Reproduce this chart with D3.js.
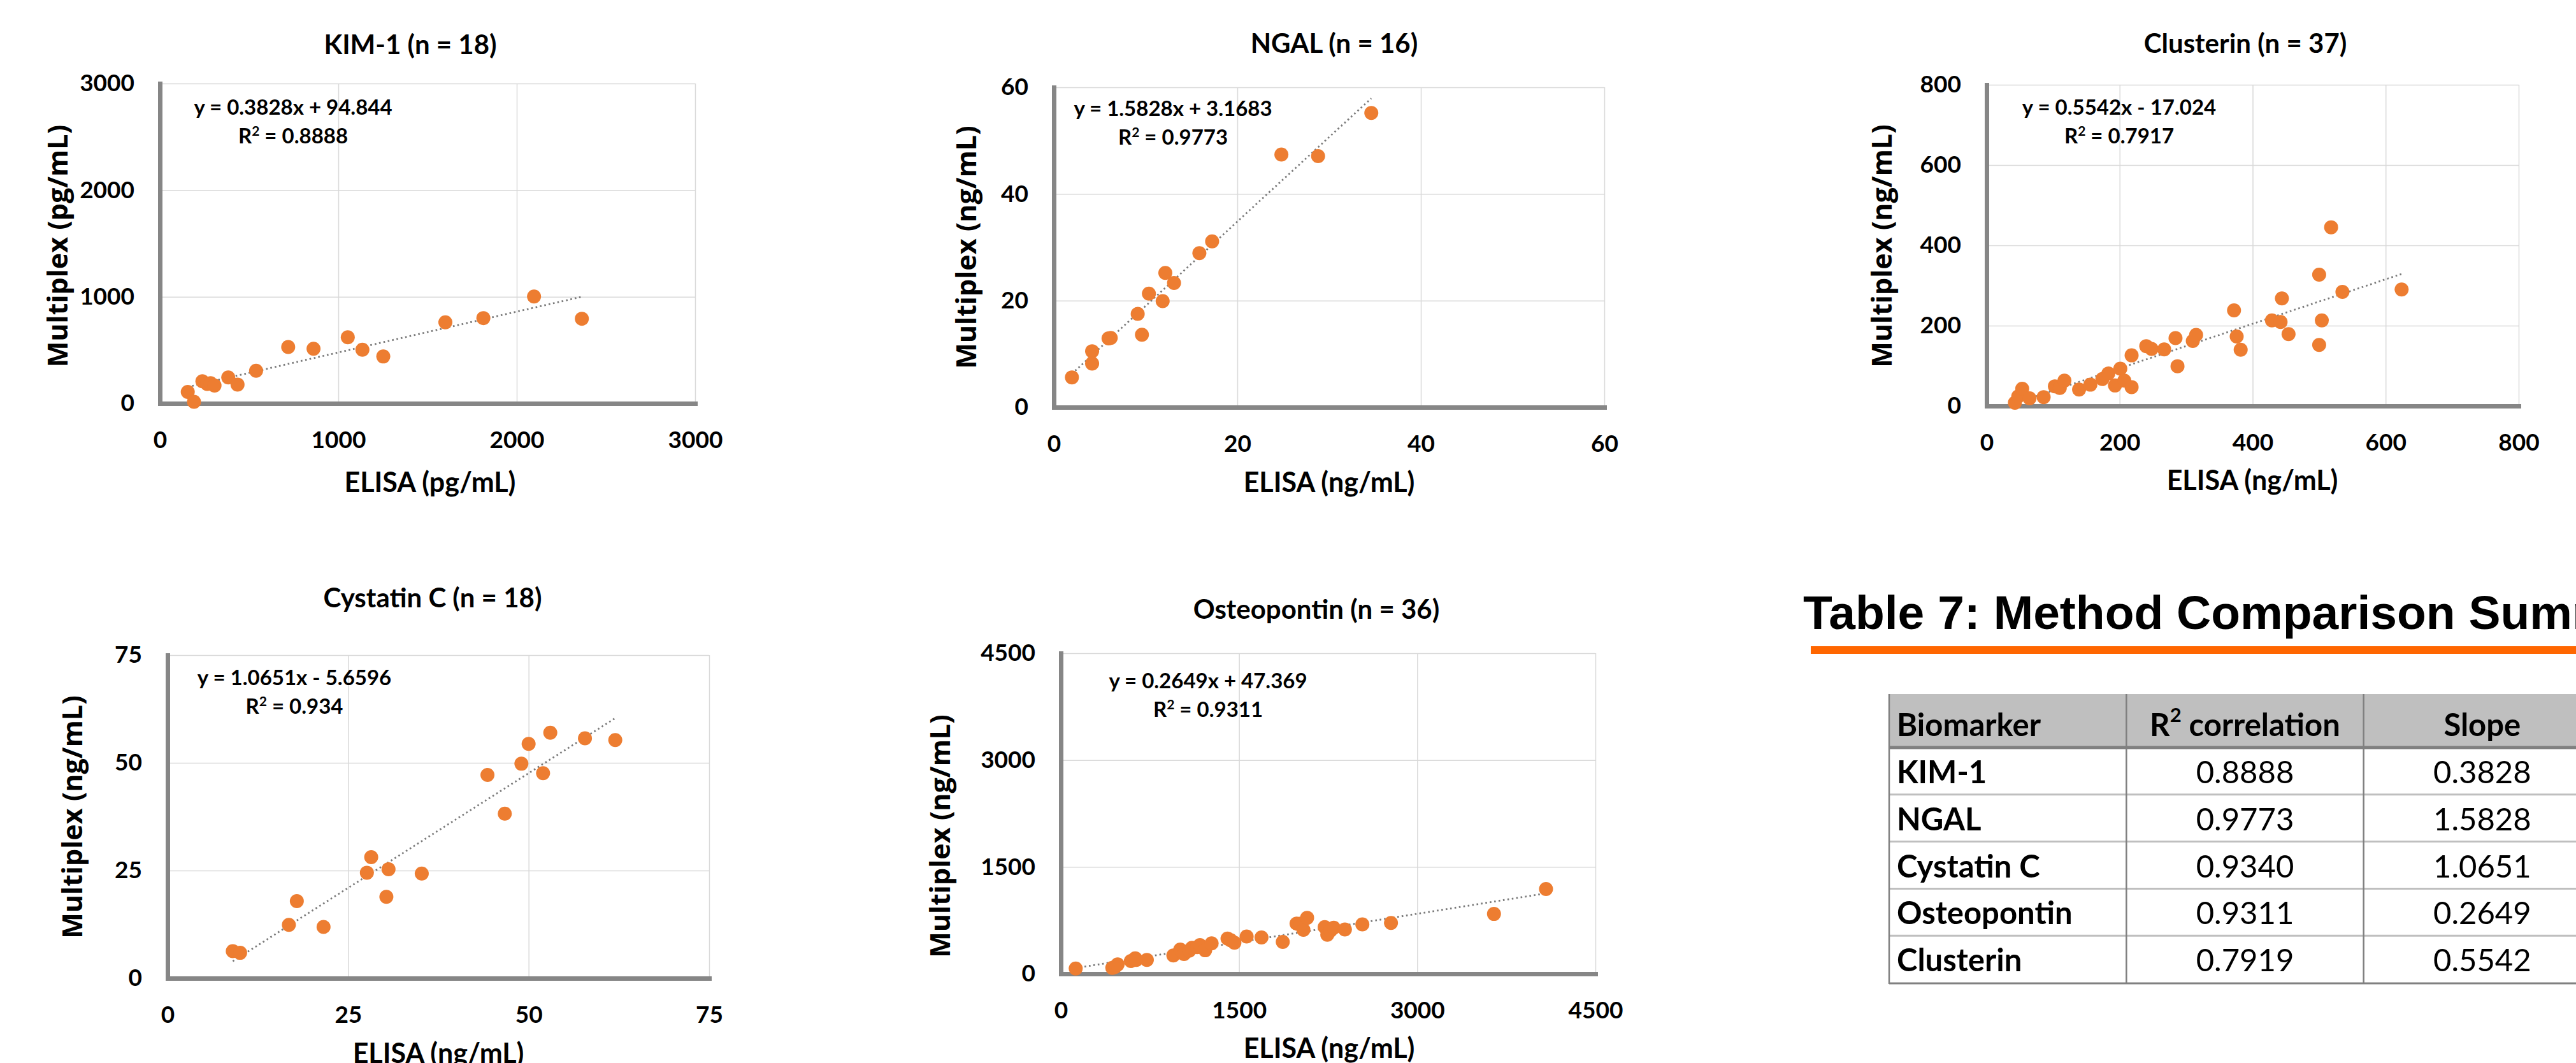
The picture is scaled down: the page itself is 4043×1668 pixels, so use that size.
<!DOCTYPE html>
<html>
<head>
<meta charset="utf-8">
<script src="https://cdn.jsdelivr.net/npm/d3@7"></script>
<style>
  body { margin: 0; background: #fff; }
  svg { display: block; }
</style>
</head>
<body>
<svg id="fig" width="4043" height="1668"></svg>
<script>
// values: ELISA (x) vs Multiplex (y) per biomarker
const kim1Elisa = [156, 191, 238, 265, 284, 306, 383, 435, 539, 719, 861, 1053, 1135, 1252, 1600, 1813, 2097, 2365];
const kim1Multiplex = [107, 15, 208, 183, 189, 168, 244, 177, 306, 529, 513, 620, 504, 440, 761, 800, 1002, 794];
const kim1Ticks = [0, 1000, 2000, 3000];

const ngalElisa = [1.97, 4.17, 4.17, 5.96, 6.2, 9.14, 9.6, 10.36, 11.86, 12.15, 13.1, 15.86, 17.25, 24.8, 28.8, 34.6];
const ngalMultiplex = [5.6, 10.5, 8.2, 12.9, 13.0, 17.5, 13.6, 21.3, 19.9, 25.2, 23.3, 28.9, 31.1, 47.4, 47.1, 55.2];
const ngalTicks = [0, 20, 40, 60];

const clusterinElisa = [42.5, 47.6, 53.5, 64.5, 85.7, 102.6, 110, 117, 139, 156, 174, 183, 193, 201, 207, 218, 218, 240, 248, 267,
  284, 287, 310, 315, 372, 376, 382, 429, 442, 444, 454, 500, 500, 504, 518, 535, 624];
const clusterinMultiplex = [8, 24, 43, 19, 22, 49, 45, 63, 41, 53, 67, 81, 51, 93, 63, 47, 126, 149, 142, 141,
  169, 99, 162, 177, 238, 173, 140, 213, 209, 268, 179, 327, 152, 213, 445, 284, 290];
const clusterinTicks = [0, 200, 400, 600, 800];

const cystatinElisa = [9.03, 10.05, 16.8, 17.9, 21.6, 27.6, 28.2, 30.3, 30.6, 35.2, 44.3, 46.7, 49.0, 50.0, 52.0, 53.0, 57.8, 62.0];
const cystatinMultiplex = [6.3, 5.9, 12.4, 17.9, 11.9, 24.5, 28.1, 18.9, 25.3, 24.3, 47.2, 38.2, 49.8, 54.4, 47.6, 57.0, 55.7, 55.3];
const cystatinTicks = [0, 25, 50, 75];

const osteoElisa = [125, 433, 456, 478, 590, 626, 635, 724, 947, 1005, 1037, 1081, 1104, 1148, 1171, 1215, 1269, 1403, 1430, 1461,
  1564, 1689, 1868, 1984, 2020, 2042, 2073, 2221, 2243, 2270, 2297, 2391, 2538, 2779, 3646, 4084];
const osteoMultiplex = [73, 83, 97, 131, 180, 218, 194, 194, 257, 340, 277, 325, 364, 374, 403, 330, 427, 495, 471, 437,
  524, 510, 447, 704, 704, 617, 786, 655, 549, 607, 646, 621, 694, 714, 840, 1189];
const osteoTicks = [0, 1500, 3000, 4500];

// fitted trendlines as printed on each chart
const slopes = { kim: 0.3828, ngal: 1.5828, clusterin: 0.5542, cystatin: 1.0651, osteo: 0.2649 };
const intercepts = { kim: 94.844, ngal: 3.1683, clusterin: -17.024, cystatin: -5.6596, osteo: 47.369 };
const r2Labels = { kim: '0.8888', ngal: '0.9773', clusterin: '0.7917', cystatin: '0.934', osteo: '0.9311' };

// summary table
const tableHeaders = ['Biomarker', 'R2 correlation', 'Slope'];
const tableNames = ['KIM-1', 'NGAL', 'Cystatin C', 'Osteopontin', 'Clusterin'];
const tableR2 = ['0.8888', '0.9773', '0.9340', '0.9311', '0.7919'];
const tableSlope = ['0.3828', '1.5828', '1.0651', '0.2649', '0.5542'];

const ORANGE = '#ED7D31';
const AXIS = '#868686';
const GRID = '#d9d9d9';
const CAL = 'Lato, "Open Sans", sans-serif';

const panels = [
  { key: 'kim', title: 'KIM-1 (n = 18)', xs: kim1Elisa, ys: kim1Multiplex, ticks: kim1Ticks, unit: 'pg/mL',
    box: { l: 251, r: 1091, t: 131, b: 633 }, titlePos: [644, 85], xTitle: [675, 772], yTitle: [106, 386], eq: [460, 180] },
  { key: 'ngal', title: 'NGAL (n = 16)', xs: ngalElisa, ys: ngalMultiplex, ticks: ngalTicks, unit: 'ng/mL',
    box: { l: 1654, r: 2518, t: 137, b: 639 }, titlePos: [2094, 83], xTitle: [2086, 772], yTitle: [1532, 388], eq: [1841, 182] },
  { key: 'clusterin', title: 'Clusterin (n = 37)', xs: clusterinElisa, ys: clusterinMultiplex, ticks: clusterinTicks, unit: 'ng/mL',
    box: { l: 3118, r: 3953, t: 133, b: 637 }, titlePos: [3524, 83], xTitle: [3535, 769], yTitle: [2969, 386], eq: [3326, 180] },
  { key: 'cystatin', title: 'Cystatin C (n = 18)', xs: cystatinElisa, ys: cystatinMultiplex, ticks: cystatinTicks, unit: 'ng/mL',
    box: { l: 263, r: 1113, t: 1028, b: 1535 }, titlePos: [679, 953], xTitle: [688, 1668], yTitle: [129, 1282], eq: [462, 1075] },
  { key: 'osteo', title: 'Osteopontin (n = 36)', xs: osteoElisa, ys: osteoMultiplex, ticks: osteoTicks, unit: 'ng/mL',
    box: { l: 1665, r: 2504, t: 1025, b: 1528 }, titlePos: [2066, 971], xTitle: [2086, 1660], yTitle: [1491, 1312], eq: [1896, 1080] }
];

const svg = d3.select('#fig');
svg.append('rect').attr('width', 4043).attr('height', 1668).attr('fill', '#fff');

function drawPanel(p){
  const g = svg.append('g');
  const max = d3.max(p.ticks);
  const x = d3.scaleLinear().domain([0, max]).range([p.box.l, p.box.r]);
  const y = d3.scaleLinear().domain([0, max]).range([p.box.b, p.box.t]);
  const h = p.box.b - p.box.t, w = p.box.r - p.box.l;

  // gridlines (incl. top and right edges)
  g.append('g').attr('transform', `translate(0,${p.box.b})`)
    .call(d3.axisBottom(x).tickValues(p.ticks.slice(1)).tickSize(-h).tickFormat(''))
    .call(s => s.select('.domain').remove())
    .selectAll('line').attr('stroke', GRID).attr('stroke-width', 1.5);
  g.append('g').attr('transform', `translate(${p.box.l},0)`)
    .call(d3.axisLeft(y).tickValues(p.ticks.slice(1)).tickSize(-w).tickFormat(''))
    .call(s => s.select('.domain').remove())
    .selectAll('line').attr('stroke', GRID).attr('stroke-width', 1.5);

  // trendline over the data range
  const lo = d3.min(p.xs), hi = d3.max(p.xs);
  const m = slopes[p.key], c = intercepts[p.key];
  g.append('line')
    .attr('x1', x(lo)).attr('y1', y(m * lo + c))
    .attr('x2', x(hi)).attr('y2', y(m * hi + c))
    .attr('stroke', '#7a7a7a').attr('stroke-width', 2.8)
    .attr('stroke-dasharray', '2.6 4.4');

  // axes
  const fmt = d3.format('d');
  const xa = g.append('g').attr('transform', `translate(0,${p.box.b})`)
    .call(d3.axisBottom(x).tickValues(p.ticks).tickFormat(fmt).tickSize(0).tickSizeOuter(0).tickPadding(44));
  const ya = g.append('g').attr('transform', `translate(${p.box.l},0)`)
    .call(d3.axisLeft(y).tickValues(p.ticks).tickFormat(fmt).tickSize(0).tickSizeOuter(0).tickPadding(40));
  [xa, ya].forEach(a => {
    a.select('.domain').attr('stroke', AXIS).attr('stroke-width', 7).attr('stroke-linecap', 'square');
    a.selectAll('text').attr('font-family', CAL).attr('font-weight', 700)
      .attr('font-size', 37).attr('fill', '#000');
  });

  // points
  g.append('g').selectAll('circle').data(p.xs.map((v, i) => [v, p.ys[i]])).join('circle')
    .attr('cx', d => x(d[0])).attr('cy', d => y(d[1])).attr('r', 11).attr('fill', ORANGE);

  // equation label
  const eq = `y = ${m}x ${c < 0 ? '-' : '+'} ${Math.abs(c)}`;
  g.append('text').attr('x', p.eq[0]).attr('y', p.eq[1]).attr('text-anchor', 'middle')
    .attr('font-family', CAL).attr('font-weight', 700).attr('font-size', 33).text(eq);
  const r2 = g.append('text').attr('x', p.eq[0]).attr('y', p.eq[1] + 45).attr('text-anchor', 'middle')
    .attr('font-family', CAL).attr('font-weight', 700).attr('font-size', 33);
  r2.append('tspan').text('R');
  r2.append('tspan').attr('font-size', 21).attr('dy', -12).text('2');
  r2.append('tspan').attr('dy', 12).text(' = ' + r2Labels[p.key]);

  // titles
  g.append('text').attr('x', p.titlePos[0]).attr('y', p.titlePos[1]).attr('text-anchor', 'middle')
    .attr('font-family', CAL).attr('font-weight', 700).attr('font-size', 42).text(p.title);
  g.append('text').attr('x', p.xTitle[0]).attr('y', p.xTitle[1]).attr('text-anchor', 'middle')
    .attr('font-family', CAL).attr('font-weight', 700).attr('font-size', 43).text(`ELISA (${p.unit})`);
  g.append('text').attr('transform', `translate(${p.yTitle[0]},${p.yTitle[1]}) rotate(-90)`)
    .attr('text-anchor', 'middle')
    .attr('font-family', '"Open Sans", sans-serif').attr('font-weight', 700).attr('font-size', 43)
    .text(`Multiplex (${p.unit})`);
}

panels.forEach(drawPanel);

// ---- summary table ----
const tg = svg.append('g');
tg.append('text').attr('x', 2830).attr('y', 987)
  .attr('font-family', '"Liberation Sans", Arial, sans-serif').attr('font-weight', 700).attr('font-size', 75)
  .text('Table 7: Method Comparison Summary');
tg.append('rect').attr('x', 2842).attr('y', 1014).attr('width', 4043 - 2842).attr('height', 12).attr('fill', '#ff6600');

const colX = d3.scaleBand().domain(['name', 'r2', 'slope']).range([2965, 4082]);
const headTop = 1089, headBot = 1173;
const rowY = d3.scaleBand().domain(tableNames).range([headBot, 1542]);

tg.append('rect').attr('x', colX.range()[0]).attr('y', headTop)
  .attr('width', colX.range()[1] - colX.range()[0]).attr('height', headBot - headTop).attr('fill', '#bfbfbf');

// row separators
tg.selectAll('line.row').data(tableNames.slice(1)).join('line').attr('class', 'row')
  .attr('x1', 2965).attr('x2', 4082).attr('y1', d => rowY(d)).attr('y2', d => rowY(d))
  .attr('stroke', '#bfbfbf').attr('stroke-width', 3);
tg.append('line').attr('x1', 2965).attr('x2', 4082).attr('y1', headBot).attr('y2', headBot)
  .attr('stroke', '#808080').attr('stroke-width', 5);
tg.append('line').attr('x1', 2965).attr('x2', 4082).attr('y1', 1543).attr('y2', 1543)
  .attr('stroke', '#808080').attr('stroke-width', 3);
// column separators
tg.selectAll('line.col').data(['name', 'r2', 'slope']).join('line').attr('class', 'col')
  .attr('x1', d => colX(d)).attr('x2', d => colX(d)).attr('y1', headTop).attr('y2', 1544)
  .attr('stroke', '#808080').attr('stroke-width', 2.5);

// header text
const hs = { 'font-family': CAL, 'font-weight': 700, 'font-size': 49 };
function styled(sel, st){ Object.entries(st).forEach(([k, v]) => sel.attr(k, v)); return sel; }
styled(tg.append('text').attr('x', colX('name') + 12).attr('y', 1155), hs).text(tableHeaders[0]);
const rh = styled(tg.append('text').attr('x', colX('r2') + colX.bandwidth() / 2).attr('y', 1155).attr('text-anchor', 'middle'), hs);
rh.append('tspan').text('R');
rh.append('tspan').attr('font-size', 31).attr('dy', -22).text('2');
rh.append('tspan').attr('dy', 22).text(' correlation');
styled(tg.append('text').attr('x', colX('slope') + colX.bandwidth() / 2).attr('y', 1155).attr('text-anchor', 'middle'), hs)
  .text(tableHeaders[2]);

// body text
const rows = tableNames.map((n, i) => ({ name: n, r2: tableR2[i], slope: tableSlope[i] }));
const rg = tg.selectAll('g.r').data(rows).join('g').attr('class', 'r')
  .attr('transform', d => `translate(0,${rowY(d.name) + 56})`);
rg.append('text').attr('x', colX('name') + 12).attr('font-family', CAL).attr('font-weight', 700)
  .attr('font-size', 49).text(d => d.name);
rg.append('text').attr('x', colX('r2') + colX.bandwidth() / 2).attr('text-anchor', 'middle')
  .attr('font-family', CAL).attr('font-size', 49).text(d => d.r2);
rg.append('text').attr('x', colX('slope') + colX.bandwidth() / 2).attr('text-anchor', 'middle')
  .attr('font-family', CAL).attr('font-size', 49).text(d => d.slope);
</script>
</body>
</html>
